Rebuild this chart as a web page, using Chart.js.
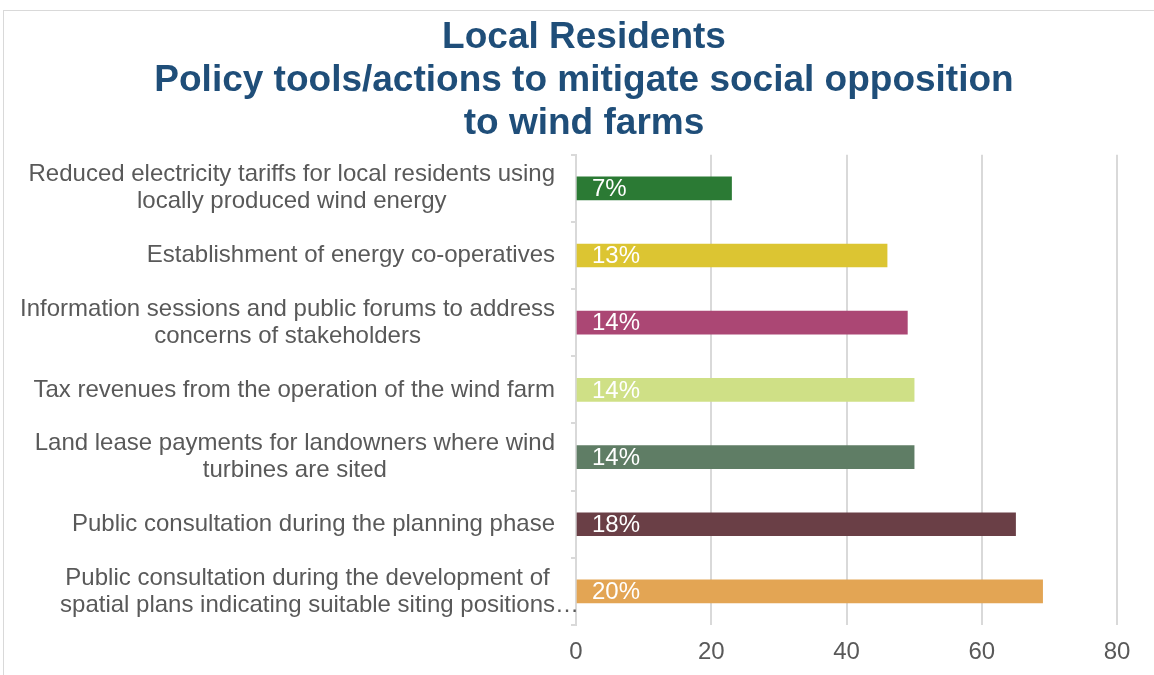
<!DOCTYPE html>
<html>
<head>
<meta charset="utf-8">
<script src="https://cdn.jsdelivr.net/npm/chart.js@4"></script>
<style>
  body { margin: 0; background: #fff; }
  #frame { position: absolute; left: 3px; top: 10px; width: 1160px; height: 680px; border: 1px solid #d9d9d9; }
  #wrap { position: absolute; left: 0; top: 0; width: 1154px; height: 675px; }
</style>
</head>
<body>
<div id="frame"></div>
<div id="wrap"><canvas id="chart" width="1154" height="675"></canvas></div>
<script>
// chart data
const titleLines = ['Local Residents', 'Policy tools/actions to mitigate social opposition', 'to wind farms'];
const categories = [
  ['Reduced electricity tariffs for local residents using', 'locally produced wind energy'],
  ['Establishment of energy co-operatives'],
  ['Information sessions and public forums to address', 'concerns of stakeholders'],
  ['Tax revenues from the operation of the wind farm'],
  ['Land lease payments for landowners where wind', 'turbines are sited'],
  ['Public consultation during the planning phase'],
  ['Public consultation during the development of', 'spatial plans indicating suitable siting positions\u2026']
];
const counts = [23, 46, 49, 50, 50, 65, 69];
const percentLabels = ['7%', '13%', '14%', '14%', '14%', '18%', '20%'];
const barColors = ['#2b7a34', '#dcc532', '#ab4774', '#cfe086', '#5f7d65', '#6a3f46', '#e3a554'];
const xTicks = [0, 20, 40, 60, 80];

const FONT = '"Liberation Sans", Arial, sans-serif';
const GREY = '#595959';

// category labels: block right aligned, lines centered inside the block
// (a trailing ellipsis hangs past the block edge)
const categoryLabels = {
  id: 'categoryLabels',
  afterDraw(chart) {
    const ctx = chart.ctx;
    const yScale = chart.scales.y;
    const right = 555;
    const lh = 27;
    ctx.save();
    ctx.font = '24px ' + FONT;
    ctx.fillStyle = GREY;
    ctx.textAlign = 'left';
    ctx.textBaseline = 'middle';
    categories.forEach((lines, i) => {
      const yc = yScale.getPixelForValue(i);
      const widths = lines.map(l => ctx.measureText(l.replace(/\u2026$/, '')).width);
      const w = Math.max(...widths);
      const cx = right - w / 2;
      const y0 = yc - (lines.length - 1) * lh / 2;
      lines.forEach((l, j) => ctx.fillText(l, cx - widths[j] / 2, y0 + j * lh));
    });
    ctx.restore();
  }
};

// white percentage labels at the start of each bar
const barLabels = {
  id: 'barLabels',
  afterDatasetsDraw(chart) {
    const ctx = chart.ctx;
    const meta = chart.getDatasetMeta(0);
    ctx.save();
    ctx.font = '24px ' + FONT;
    ctx.fillStyle = '#ffffff';
    ctx.textAlign = 'left';
    ctx.textBaseline = 'middle';
    meta.data.forEach((bar, i) => {
      ctx.fillText(percentLabels[i], bar.base + 15, bar.y + 1);
    });
    ctx.restore();
  }
};

const ctx = document.getElementById('chart').getContext('2d');
const chart = new Chart(ctx, {
  type: 'bar',
  data: {
    labels: categories,
    datasets: [{
      data: counts,
      backgroundColor: barColors,
      borderWidth: 0,
      barThickness: 23
    }]
  },
  options: {
    indexAxis: 'y',
    responsive: false,
    animation: false,
    devicePixelRatio: 1,
    layout: { padding: { left: 14, right: 0, top: 0, bottom: 0 } },
    plugins: {
      legend: { display: false },
      tooltip: { enabled: false },
      title: {
        display: true,
        text: titleLines,
        color: '#1f4e79',
        font: { family: FONT, size: 37, weight: 'bold', lineHeight: 1.16 },
        padding: { top: 16, bottom: 10 }
      }
    },
    scales: {
      x: {
        min: 0,
        max: 80,
        afterBuildTicks: (s) => { s.ticks = xTicks.map(v => ({ value: v })); },
        afterFit: (s) => { s.paddingRight = 37; s.height = 50; },
        ticks: { color: GREY, font: { family: FONT, size: 24 }, padding: 13 },
        grid: { color: '#d9d9d9', lineWidth: 2, drawTicks: false },
        border: { display: false }
      },
      y: {
        afterFit: (s) => { s.width = 562; },
        ticks: { display: false },
        grid: { offset: true, drawOnChartArea: false, tickLength: 5, color: '#d9d9d9', lineWidth: 2 },
        border: { color: '#d9d9d9', width: 2 }
      }
    }
  },
  plugins: [categoryLabels, barLabels]
});
</script>
</body>
</html>
